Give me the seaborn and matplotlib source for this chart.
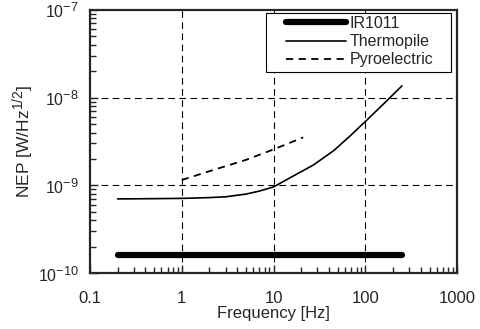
import pandas as pd
import numpy as np
import matplotlib
matplotlib.use('Agg')
from matplotlib import pyplot as plt
from matplotlib.ticker import LogLocator, NullFormatter, FixedLocator
from matplotlib.patches import Rectangle
import matplotlib._mathtext as mt
import seaborn as sns

# bigger superscripts, like the original
mt.SHRINK_FACTOR = 0.8

# data
ir_freq = [0.2, 250]
ir_nep = [1.6e-10, 1.6e-10]

thermo_freq = [0.2, 0.5, 1, 2, 3, 5, 7, 10, 16, 27, 45, 68, 104, 171, 250]
thermo_nep = [7.0e-10, 7.05e-10, 7.1e-10, 7.25e-10, 7.4e-10, 7.95e-10, 8.6e-10, 9.6e-10,
              1.26e-9, 1.70e-9, 2.48e-9, 3.65e-9, 5.56e-9, 9.2e-9, 1.36e-8]

pyro_freq = [1, 2, 5, 10, 15, 21]
pyro_nep = [1.15e-9, 1.45e-9, 1.95e-9, 2.57e-9, 3.05e-9, 3.52e-9]

sns.set_style('ticks')
plt.rcParams['font.family'] = ['Liberation Sans', 'DejaVu Sans']
plt.rcParams['mathtext.fontset'] = 'custom'
plt.rcParams['mathtext.rm'] = 'Liberation Sans'
plt.rcParams['mathtext.it'] = 'Liberation Sans'

fig = plt.figure(figsize=(4.8, 3.29), dpi=100)
ax = fig.add_axes([0.1875, 0.170, 0.765, 0.800])

sns.lineplot(x=ir_freq, y=ir_nep, ax=ax, color='black', linewidth=4.5,
             solid_capstyle='round', label='IR1011')
sns.lineplot(x=thermo_freq, y=thermo_nep, ax=ax, color='black', linewidth=1.2,
             label='Thermopile')
sns.lineplot(x=pyro_freq, y=pyro_nep, ax=ax, color='black', linewidth=1.3,
             dashes=False, label='Pyroelectric')
ax.lines[2].set_linestyle((0, (4, 3)))

ax.set_xscale('log')
ax.set_yscale('log')
ax.set_xlim(0.1, 1000)
ax.set_ylim(1e-10, 1e-7)

ax.xaxis.set_major_locator(FixedLocator([0.1, 1, 10, 100, 1000]))
ax.set_xticklabels(['0.1', '1', '10', '100', '1000'])
ax.xaxis.set_minor_locator(LogLocator(base=10, subs=np.arange(2, 10)))
ax.xaxis.set_minor_formatter(NullFormatter())
ax.yaxis.set_major_locator(FixedLocator([1e-10, 1e-9, 1e-8, 1e-7]))
ax.set_yticklabels(['$10^{-10}$', '$10^{-9}$', '$10^{-8}$', '$10^{-7}$'])
ax.yaxis.set_minor_locator(LogLocator(base=10, subs=np.arange(2, 10)))
ax.yaxis.set_minor_formatter(NullFormatter())

ax.tick_params(axis='x', which='major', direction='in', length=6, width=1, pad=13, labelsize=12)
ax.tick_params(axis='y', which='major', direction='in', length=6, width=1, pad=8, labelsize=11.5)
ax.tick_params(which='minor', direction='in', length=4, width=1)

for x in [1, 10, 100]:
    ax.axvline(x, color='black', linewidth=0.8, linestyle=(0, (6, 4)), zorder=0)
for y in [1e-9, 1e-8]:
    ax.axhline(y, color='black', linewidth=0.8, linestyle=(0, (6, 4)), zorder=0)

for s in ax.spines.values():
    s.set_linewidth(1.6)
    s.set_visible(True)

ax.set_xlabel('Frequency [Hz]', fontsize=12, labelpad=0)
ax.set_ylabel('NEP [W/Hz$^{1/2}$]', fontsize=12.5, labelpad=1)

# legend box is wider than its content in the original, so draw it apart
ax.add_patch(Rectangle((0.4796, 0.764), 0.5041, 0.2246, transform=ax.transAxes,
                       facecolor='white', edgecolor='black', linewidth=0.8, zorder=4))
leg = ax.legend(loc='upper right', bbox_to_anchor=(0.943, 0.989), borderaxespad=0,
                fontsize=11.5, frameon=False, handlelength=3.75, handletextpad=0.2,
                borderpad=0.2, labelspacing=0.2)
leg.set_zorder(5)

fig.savefig('out.png', dpi=100)
